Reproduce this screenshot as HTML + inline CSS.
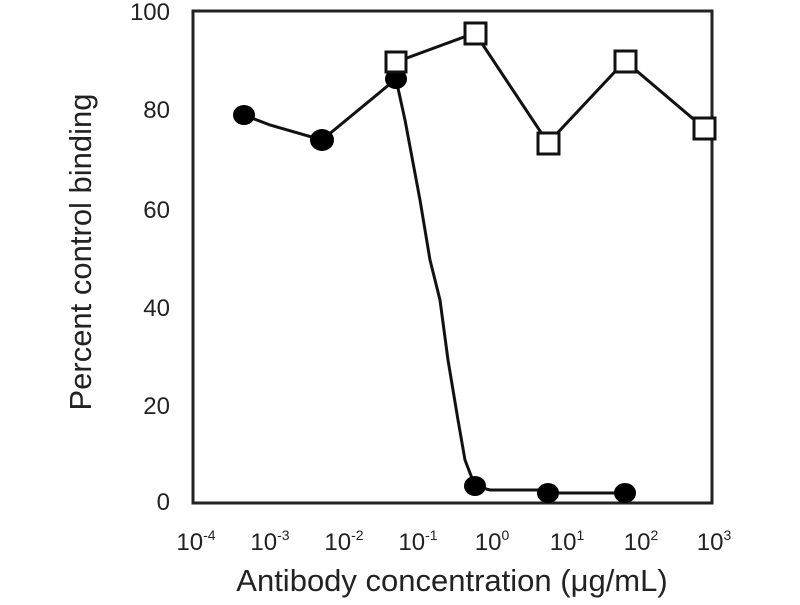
<!DOCTYPE html>
<html><head><style>body{margin:0;background:#fff}svg text{font-family:"Liberation Sans",sans-serif;fill:#222}</style></head><body>
<svg width="800" height="600" viewBox="0 0 800 600">
<rect x="193" y="11" width="519" height="492" fill="none" stroke="#222" stroke-width="3"/>
<g font-size="24" text-anchor="end">
<text x="170" y="20">100</text><text x="170" y="118">80</text><text x="170" y="218">60</text>
<text x="170" y="316">40</text><text x="170" y="414">20</text><text x="170" y="510">0</text>
</g>
<g font-size="24" text-anchor="middle">
<text x="196" y="550">10<tspan font-size="14" dy="-10">-4</tspan></text>
<text x="270" y="550">10<tspan font-size="14" dy="-10">-3</tspan></text>
<text x="344" y="550">10<tspan font-size="14" dy="-10">-2</tspan></text>
<text x="418" y="550">10<tspan font-size="14" dy="-10">-1</tspan></text>
<text x="492" y="550">10<tspan font-size="14" dy="-10">0</tspan></text>
<text x="567" y="550">10<tspan font-size="14" dy="-10">1</tspan></text>
<text x="641" y="550">10<tspan font-size="14" dy="-10">2</tspan></text>
<text x="714" y="550">10<tspan font-size="14" dy="-10">3</tspan></text>
</g>
<text x="452" y="591" font-size="31" text-anchor="middle">Antibody concentration (μg/mL)</text>
<text transform="translate(91,252) rotate(-90)" font-size="31" text-anchor="middle">Percent control binding</text>
<polyline fill="none" stroke="#111" stroke-width="3" points="244,115 270,125 322,140 396,79 405,120 420,200 430,260 440,300 448,360 458,420 465,460 475,486 490,490 540,490 548,493 625,493"/>
<polyline fill="none" stroke="#111" stroke-width="3" points="396,62 475,33 548,143 625,61 704,128"/>
<g fill="#000">
<ellipse cx="244" cy="115" rx="11" ry="10"/><ellipse cx="322" cy="140" rx="12" ry="11"/>
<ellipse cx="396" cy="79" rx="11" ry="10"/><ellipse cx="475" cy="486" rx="11" ry="10"/>
<ellipse cx="548" cy="493" rx="11" ry="10"/><ellipse cx="625" cy="493" rx="11" ry="10"/>
</g>
<g fill="#fff" stroke="#111" stroke-width="3">
<rect x="386" y="52" width="20" height="20"/><rect x="465" y="23" width="21" height="21"/>
<rect x="538" y="133" width="21" height="21"/><rect x="615" y="51" width="21" height="21"/>
<rect x="694" y="118" width="21" height="21"/>
</g>
</svg></body></html>
